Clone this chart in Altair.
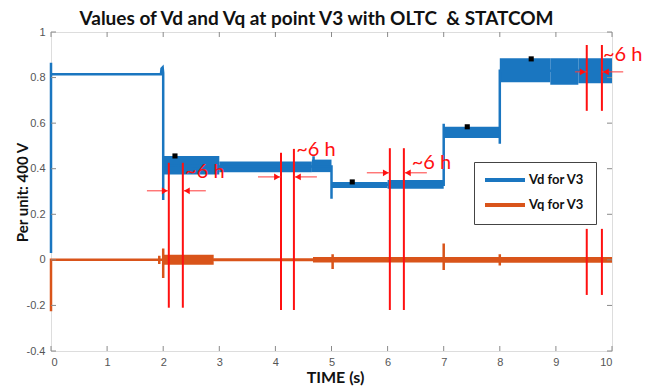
import altair as alt
import pandas as pd

# ---------------- data ----------------
vd_t = [0, 0, 0, 1.96, 1.97, 1.99, 2.0, 2.0, 2.0, 3.0, 4.68, 4.68, 4.68, 5.0, 5.0, 5.0, 7.0, 7.0, 7.0, 8.0, 8.0, 8.0, 10.0]
vd_v = [0.03, 0.865, 0.815, 0.815, 0.84, 0.845, 0.82, 0.263, 0.415, 0.41, 0.41, 0.455, 0.41, 0.41, 0.268, 0.33, 0.33, 0.597, 0.56, 0.56, 0.51, 0.83, 0.83]

vd_band_t0 = [2.0, 3.0, 4.65, 5.0, 6.0, 7.0, 8.0, 8.9, 9.4]
vd_band_t1 = [3.0, 4.65, 5.0, 6.0, 7.0, 8.0, 8.9, 9.4, 10.0]
vd_band_lo = [0.375, 0.385, 0.385, 0.315, 0.312, 0.535, 0.78, 0.768, 0.775]
vd_band_hi = [0.456, 0.432, 0.44, 0.342, 0.35, 0.584, 0.885, 0.885, 0.885]

vq_t = [0, 0, 1.93, 1.93, 1.93, 1.93, 2.0, 2.0, 2.0, 2.0, 5.02, 5.02, 5.02, 5.02, 7.0, 7.0, 7.0, 7.0, 8.0, 8.0, 8.0, 8.0, 10.0]
vq_v = [-0.225, 0, 0, 0.018, -0.018, 0, 0, 0.05, -0.08, 0, 0, 0.025, -0.04, 0, 0, 0.072, -0.045, 0, 0, 0.025, -0.025, 0, 0]

vq_band_t0 = [2.0, 2.9, 4.67, 7.0]
vq_band_t1 = [2.9, 4.67, 7.0, 10.0]
vq_band_lo = [-0.022, -0.006, -0.012, -0.013]
vq_band_hi = [0.022, 0.006, 0.012, 0.013]

marker_t = [2.21, 5.37, 7.42, 8.56]
marker_v = [0.456, 0.342, 0.584, 0.882]

red_t = [2.10, 2.35, 4.10, 4.33, 6.04, 6.29, 9.55, 9.82, 9.55, 9.82]
red_top = [0.426, 0.426, 0.47, 0.487, 0.49, 0.49, 0.943, 0.943, 0.136, 0.136]
red_bot = [-0.21, -0.21, -0.22, -0.22, -0.22, -0.22, 0.654, 0.654, -0.154, -0.154]

arrow_from = [1.71, 2.76, 3.69, 4.74, 5.63, 6.70, 9.34, 10.2]
arrow_to = [2.10, 2.35, 4.10, 4.33, 6.04, 6.29, 9.55, 9.82]
arrow_y = [0.303, 0.303, 0.364, 0.364, 0.382, 0.382, 0.825, 0.825]
arrow_dir = ["right", "left", "right", "left", "right", "left", "right", "left"]

label_t = [2.39, 4.37, 6.43, 9.84]
label_v = [0.386, 0.483, 0.426, 0.9]
label_text = ["~6 h", "~6 h", "~6 h", "~6 h"]

x_ticks = [0, 1, 2, 3, 4, 5, 6, 7, 8, 9, 10]
y_ticks = [-0.4, -0.2, 0, 0.2, 0.4, 0.6, 0.8, 1]

series_names = ["Vd for V3", "Vq for V3"]
chart_title = "Values of Vd and Vq at point V3 with OLTC\u00a0 & STATCOM"

BLUE = "#1a76c0"
ORANGE = "#d9541a"
RED = "#ff1010"
W, H = 561, 319

# ---------------- tables ----------------
lines = pd.DataFrame(
    {"t": vd_t + vq_t,
     "v": vd_v + vq_v,
     "series": [series_names[0]] * len(vd_t) + [series_names[1]] * len(vq_t),
     "i": list(range(len(vd_t))) + list(range(len(vq_t)))}
)
vd_bands = pd.DataFrame({"t0": vd_band_t0, "t1": vd_band_t1, "lo": vd_band_lo, "hi": vd_band_hi})
vq_bands = pd.DataFrame({"t0": vq_band_t0, "t1": vq_band_t1, "lo": vq_band_lo, "hi": vq_band_hi})
markers = pd.DataFrame({"t": marker_t, "v": marker_v})
reds = pd.DataFrame({"t": red_t, "top": red_top, "bot": red_bot})
arrows = pd.DataFrame({"t0": arrow_from, "t1": arrow_to, "y": arrow_y, "dir": arrow_dir})
labels = pd.DataFrame({"t": label_t, "v": label_v, "txt": label_text})
xt = pd.DataFrame({"t": x_ticks})
yt = pd.DataFrame({"v": y_ticks})

xscale = alt.Scale(domain=[0, 10], nice=False, zero=False)
yscale = alt.Scale(domain=[-0.4, 1], nice=False, zero=False)

xaxis = alt.Axis(values=x_ticks, title="TIME (s)", grid=False, ticks=False, domain=False,
                 labelPadding=5, labelColor="#555555", labelFontSize=11, labelFont="Liberation Sans",
                 titleFont="Lato", titleFontSize=16, titleFontWeight="bold", titleColor="#111111",
                 titleX=284, titleY=26, titleBaseline="middle", titleAlign="center")
yaxis = alt.Axis(values=y_ticks, title="Per unit: 400 V", grid=False, ticks=False, domain=False,
                 labelPadding=6, labelColor="#555555", labelFontSize=11, labelFont="Liberation Sans",
                 labelExpr="datum.value < 0 ? '-' + format(-datum.value, '~g') : format(datum.value, '~g')",
                 titleFont="Lato", titleFontSize=15, titleFontWeight="bold", titleColor="#111111",
                 titleX=-29, titleY=160, titleAngle=270, titleBaseline="middle", titleAlign="center")

X = lambda f: alt.X(f, type="quantitative", scale=xscale, axis=xaxis)
Y = lambda f: alt.Y(f, type="quantitative", scale=yscale, axis=yaxis)

vd_band_layer = alt.Chart(vd_bands).mark_rect(color=BLUE, opacity=1).encode(
    x=X("t0"), x2="t1", y=Y("lo"), y2="hi")
vq_band_layer = alt.Chart(vq_bands).mark_rect(color=ORANGE, opacity=1).encode(
    x=X("t0"), x2="t1", y=Y("lo"), y2="hi")

line_layer = alt.Chart(lines).mark_line(strokeWidth=2.5).encode(
    x=X("t"), y=Y("v"), order="i:Q",
    color=alt.Color("series:N", scale=alt.Scale(domain=series_names, range=[BLUE, ORANGE]),
                    legend=alt.Legend(title=None, orient="none", legendX=423, legendY=130,
                                      symbolType="M-4,0L4,0", symbolSize=100, symbolStrokeWidth=4,
                                      symbolOffset=13,
                                      labelFont="Lato", labelFontSize=13, labelFontWeight="bold",
                                      labelColor="#111111", labelOffset=17, rowPadding=9,
                                      padding=11, strokeColor="#444444", fillColor="white")),
)

marker_layer = alt.Chart(markers).mark_square(size=26, color="black", opacity=1).encode(x=X("t"), y=Y("v"))

red_layer = alt.Chart(reds).mark_rule(color=RED, strokeWidth=2).encode(x=X("t"), y=Y("top"), y2="bot")

arrow_line_layer = alt.Chart(arrows).mark_rule(color="#ff3a3a", strokeWidth=1).encode(
    x=X("t0"), x2="t1", y=Y("y"))
head_r = alt.Chart(arrows).transform_filter("datum.dir == 'right'").mark_point(
    shape="triangle-right", filled=True, size=45, color=RED, opacity=1).encode(
    x=X("t1"), y=Y("y"), xOffset=alt.value(-4))
head_l = alt.Chart(arrows).transform_filter("datum.dir == 'left'").mark_point(
    shape="triangle-left", filled=True, size=45, color=RED, opacity=1).encode(
    x=X("t1"), y=Y("y"), xOffset=alt.value(4))

text_layer = alt.Chart(labels).mark_text(font="Lato", fontSize=20, color=RED, align="left",
                                         baseline="middle").encode(x=X("t"), y=Y("v"), text="txt:N")

tick_b = alt.Chart(xt).mark_rule(color="#8a8a8a").encode(x=X("t"), y=alt.value(H - 5), y2=alt.value(H))
tick_t = alt.Chart(xt).mark_rule(color="#8a8a8a").encode(x=X("t"), y=alt.value(0), y2=alt.value(5))
tick_l = alt.Chart(yt).mark_rule(color="#8a8a8a").encode(y=Y("v"), x=alt.value(0), x2=alt.value(5))
tick_r = alt.Chart(yt).mark_rule(color="#8a8a8a").encode(y=Y("v"), x=alt.value(W - 5), x2=alt.value(W))

chart = alt.layer(
    vd_band_layer, vq_band_layer, line_layer, red_layer, arrow_line_layer, head_r, head_l,
    text_layer, marker_layer, tick_b, tick_t, tick_l, tick_r,
).properties(
    width=W, height=H,
    padding={"left": 43, "top": 24, "right": 32, "bottom": 37},
    autosize=alt.AutoSizeParams(type="none"),
    title=alt.TitleParams(chart_title, font="Lato",
                          fontSize=19, fontWeight="bold", color="#111111", anchor="middle",
                          baseline="alphabetic", offset=7, dx=-15, dy=25),
).configure_view(stroke="#a0a0a0", strokeWidth=1).configure(background="white")

chart.save("out.html", embed_options={"renderer": "svg", "actions": False})
